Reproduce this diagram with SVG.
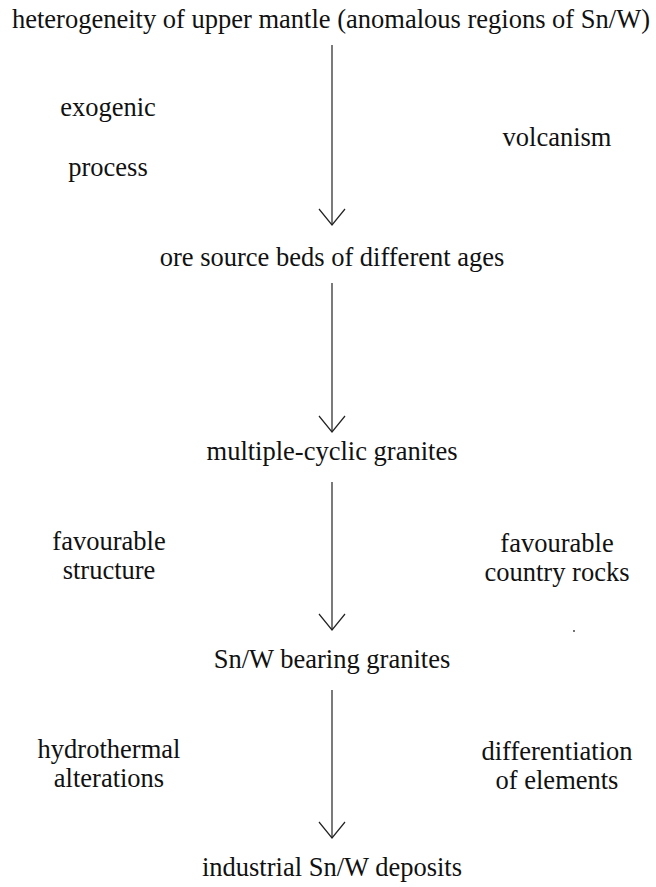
<svg xmlns="http://www.w3.org/2000/svg" width="656" height="887" viewBox="0 0 656 887">
<style>
text{font-family:"Liberation Serif","Times New Roman",Times,serif;font-size:26.5px;fill:#111;text-anchor:middle}
.c line,.c polyline{stroke:#222;stroke-width:1.2;fill:none}
</style>
<rect width="656" height="887" fill="#fff"/>
<g id="n-mantle"><text x="331" y="28">heterogeneity of upper mantle (anomalous regions of Sn/W)</text></g>
<g id="n-exogenic"><text x="108" y="116">exogenic</text><text x="108" y="176">process</text></g>
<g id="n-volcanism"><text x="557" y="146">volcanism</text></g>
<g id="n-orebeds"><text x="332" y="266">ore source beds of different ages</text></g>
<g id="n-granites"><text x="332" y="460">multiple-cyclic granites</text></g>
<g id="n-structure"><text x="109" y="550">favourable</text><text x="109" y="579">structure</text></g>
<g id="n-country"><text x="557" y="552">favourable</text><text x="557" y="581">country rocks</text></g>
<g id="n-snw"><text x="332" y="668">Sn/W bearing granites</text></g>
<g id="n-hydro"><text x="109" y="758">hydrothermal</text><text x="109" y="787">alterations</text></g>
<g id="n-diff"><text x="557" y="760">differentiation</text><text x="557" y="789">of elements</text></g>
<g id="n-deposits"><text x="332" y="876">industrial Sn/W deposits</text></g>
<circle cx="574" cy="631" r="0.9" fill="#333"/>
<g id="connectors" class="c">
<line x1="332" y1="45" x2="332" y2="225"/><polyline points="319,209 332,225 345,209"/>
<line x1="332" y1="283" x2="332" y2="432"/><polyline points="319,416 332,432 345,416"/>
<line x1="332" y1="482" x2="332" y2="630"/><polyline points="319,614 332,630 345,614"/>
<line x1="332" y1="690" x2="332" y2="838"/><polyline points="319,822 332,838 345,822"/>
</g>
</svg>
